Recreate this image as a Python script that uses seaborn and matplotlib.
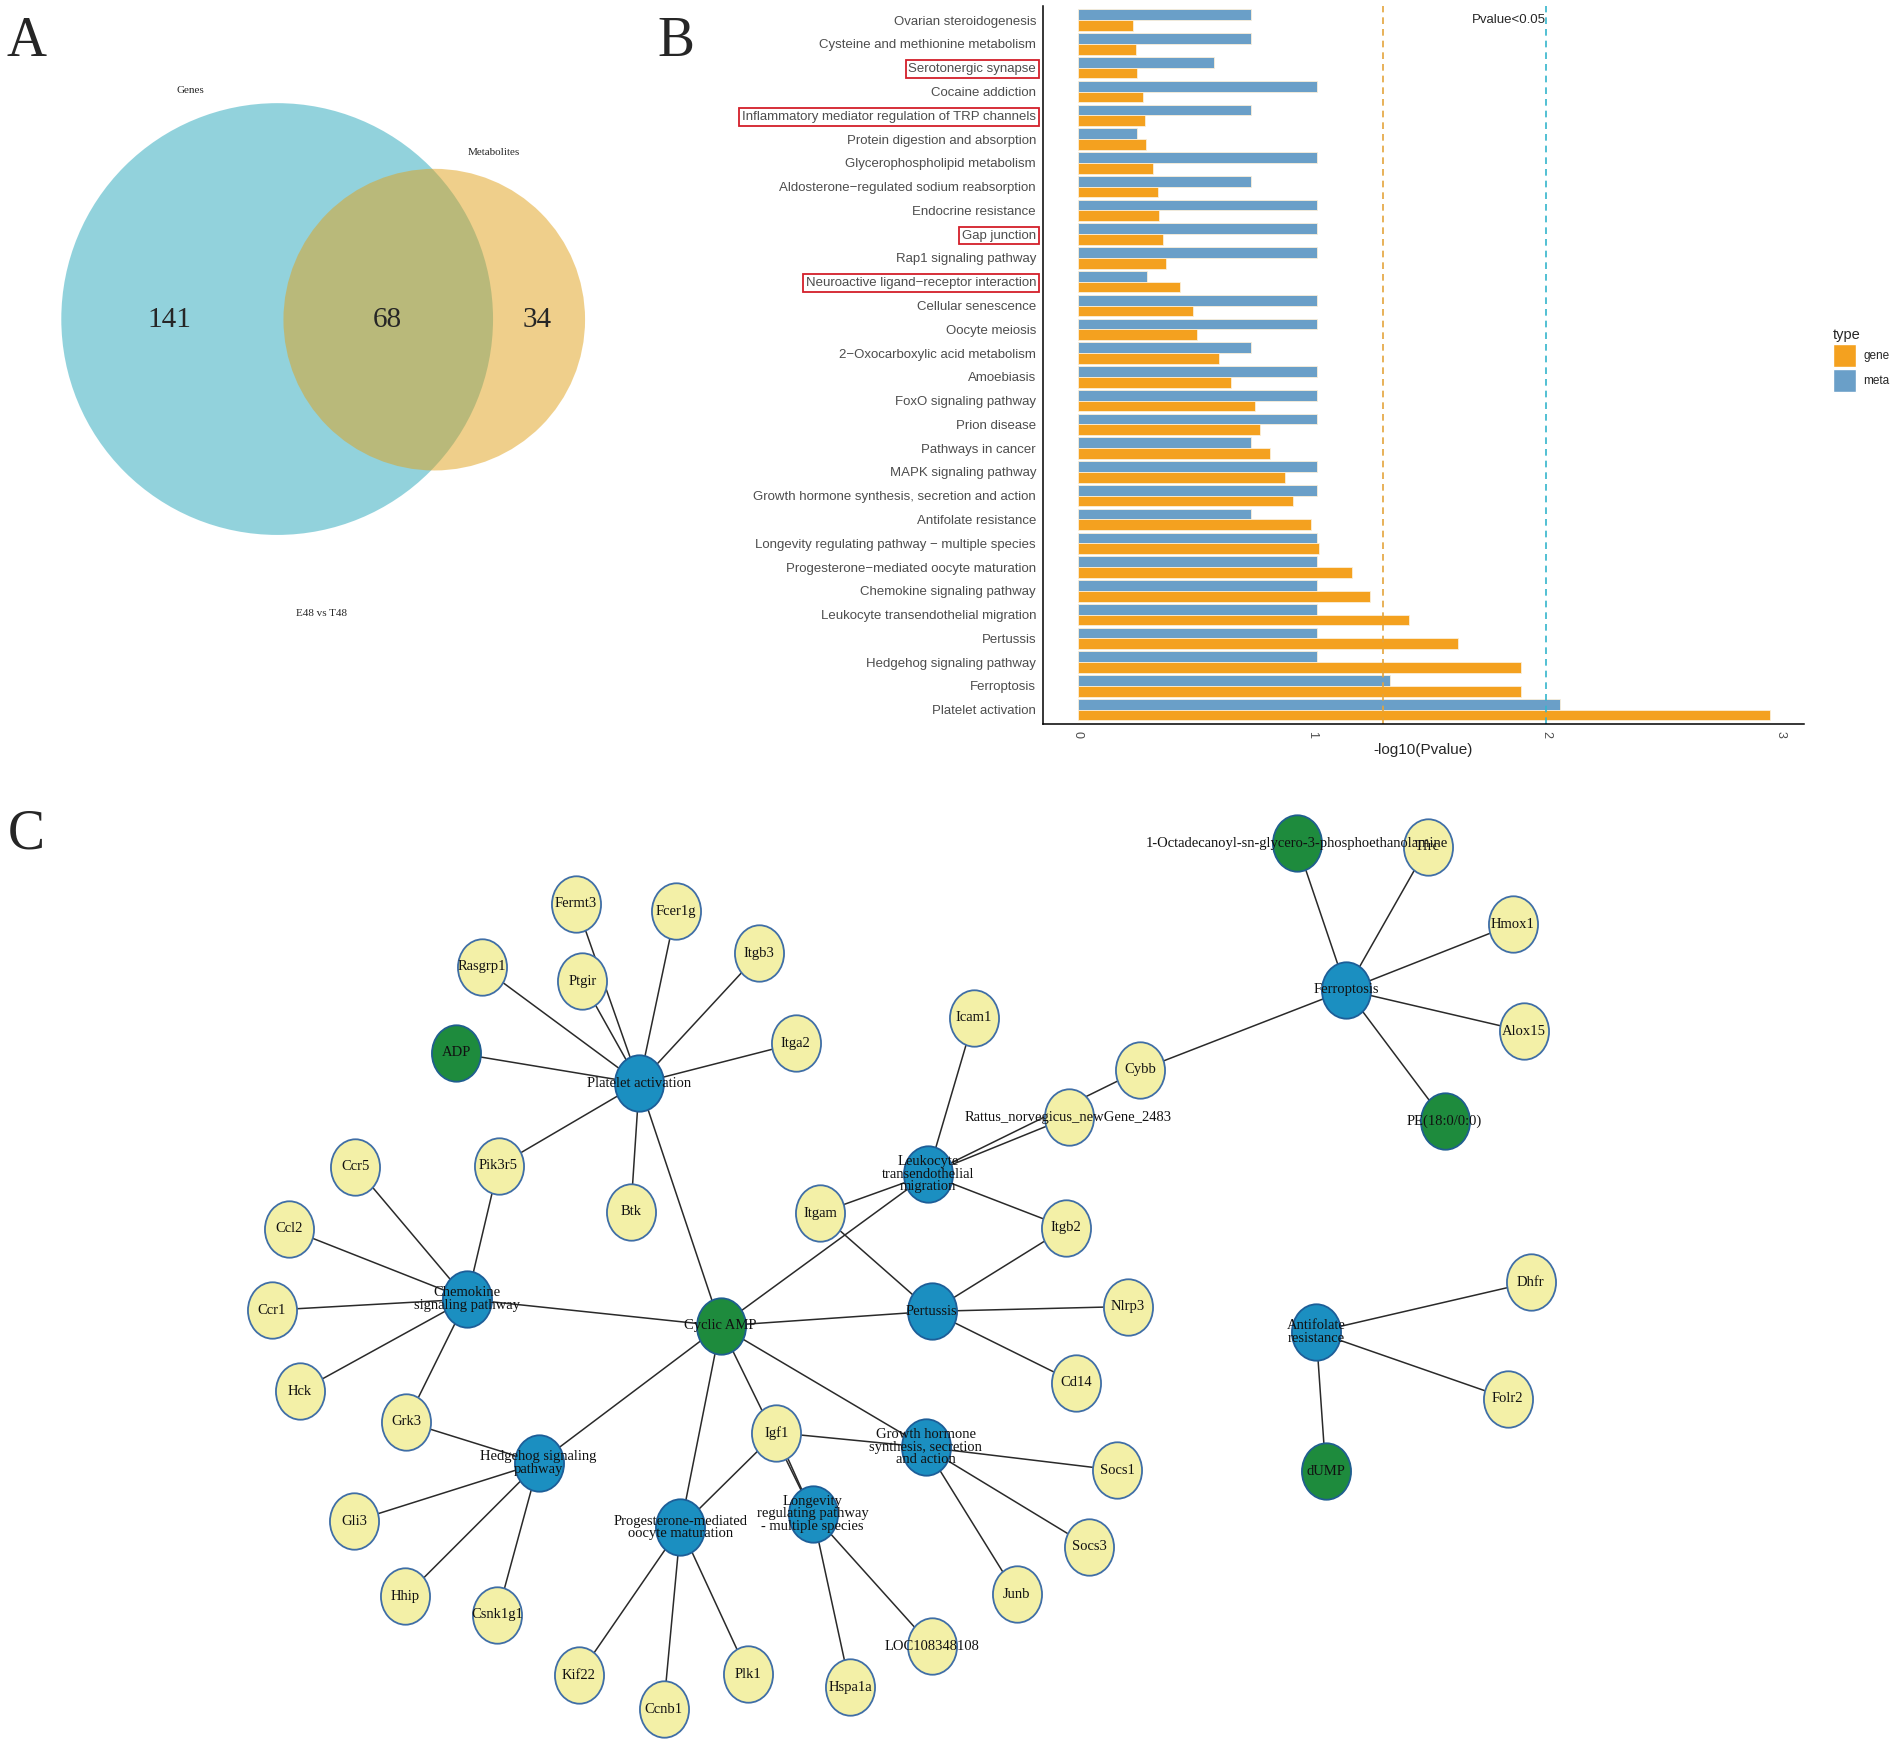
import numpy as np
import pandas as pd
import matplotlib
matplotlib.use("Agg")
import matplotlib.pyplot as plt
import seaborn as sns
from matplotlib.patches import Circle, Patch
from matplotlib.path import Path
from matplotlib.transforms import Affine2D

# ---------------- Panel A: Venn counts ----------------
venn_sets = ["Genes", "Metabolites"]
venn_only_genes = 141
venn_shared = 68
venn_only_meta = 34
venn_caption = "E48 vs T48"

# ---------------- Panel B: KEGG enrichment (-log10 P) ----------------
pathways = [
    "Ovarian steroidogenesis",
    "Cysteine and methionine metabolism",
    "Serotonergic synapse",
    "Cocaine addiction",
    "Inflammatory mediator regulation of TRP channels",
    "Protein digestion and absorption",
    "Glycerophospholipid metabolism",
    "Aldosterone\u2212regulated sodium reabsorption",
    "Endocrine resistance",
    "Gap junction",
    "Rap1 signaling pathway",
    "Neuroactive ligand\u2212receptor interaction",
    "Cellular senescence",
    "Oocyte meiosis",
    "2\u2212Oxocarboxylic acid metabolism",
    "Amoebiasis",
    "FoxO signaling pathway",
    "Prion disease",
    "Pathways in cancer",
    "MAPK signaling pathway",
    "Growth hormone synthesis, secretion and action",
    "Antifolate resistance",
    "Longevity regulating pathway \u2212 multiple species",
    "Progesterone\u2212mediated oocyte maturation",
    "Chemokine signaling pathway",
    "Leukocyte transendothelial migration",
    "Pertussis",
    "Hedgehog signaling pathway",
    "Ferroptosis",
    "Platelet activation",
]
gene_logp = [0.236, 0.249, 0.252, 0.278, 0.285, 0.291, 0.320, 0.343, 0.347, 0.363,
             0.376, 0.435, 0.491, 0.507, 0.602, 0.654, 0.756, 0.779, 0.821, 0.886,
             0.919, 0.994, 1.030, 1.171, 1.246, 1.413, 1.622, 1.891, 1.891, 2.954]
meta_logp = [0.739, 0.739, 0.582, 1.020, 0.739, 0.255, 1.020, 0.739, 1.020, 1.020,
             1.020, 0.294, 1.020, 1.020, 0.739, 1.020, 1.020, 1.020, 0.739, 1.020,
             1.020, 0.739, 1.020, 1.020, 1.020, 1.020, 1.020, 1.020, 1.331, 2.058]
boxed_pathways = [
    "Serotonergic synapse",
    "Inflammatory mediator regulation of TRP channels",
    "Gap junction",
    "Neuroactive ligand\u2212receptor interaction",
]
p_cut_gene = 0.05
p_cut_meta = 0.01

# ---------------- Panel C: pathway network ----------------
pathway_members = {
    "Platelet activation": ["Fermt3", "Fcer1g", "Rasgrp1", "Ptgir", "Itgb3", "Itga2",
                            "ADP", "Pik3r5", "Btk", "Cyclic AMP"],
    "Chemokine signaling pathway": ["Ccr5", "Ccl2", "Ccr1", "Hck", "Grk3", "Pik3r5", "Cyclic AMP"],
    "Hedgehog signaling pathway": ["Grk3", "Gli3", "Hhip", "Csnk1g1", "Cyclic AMP"],
    "Leukocyte transendothelial migration": ["Icam1", "Rattus_norvegicus_newGene_2483", "Cybb",
                                             "Itgam", "Itgb2", "Cyclic AMP"],
    "Pertussis": ["Itgam", "Itgb2", "Nlrp3", "Cd14", "Cyclic AMP"],
    "Ferroptosis": ["Cybb", "1-Octadecanoyl-sn-glycero-3-phosphoethanolamine", "Tfrc",
                    "Hmox1", "Alox15", "PE(18:0/0:0)"],
    "Growth hormone synthesis, secretion and action": ["Igf1", "Socs1", "Socs3", "Junb", "Cyclic AMP"],
    "Progesterone-mediated oocyte maturation": ["Igf1", "Kif22", "Ccnb1", "Plk1", "Cyclic AMP"],
    "Longevity regulating pathway - multiple species": ["Igf1", "Hspa1a", "LOC108348108", "Cyclic AMP"],
    "Antifolate resistance": ["Dhfr", "Folr2", "dUMP"],
}
metabolite_nodes = ["ADP", "Cyclic AMP", "1-Octadecanoyl-sn-glycero-3-phosphoethanolamine",
                    "PE(18:0/0:0)", "dUMP"]

# layout of the network / venn (reference pixel units, 1568 x 1436 canvas)
REF_W, REF_H = 1568, 1436
node_pos = {
    "Platelet activation": (527, 893), "Chemokine signaling pathway": (385, 1071),
    "Hedgehog signaling pathway": (444, 1206), "Leukocyte transendothelial migration": (765, 968),
    "Pertussis": (768, 1081), "Ferroptosis": (1110, 816),
    "Growth hormone synthesis, secretion and action": (763, 1193),
    "Progesterone-mediated oocyte maturation": (561, 1259),
    "Longevity regulating pathway - multiple species": (670, 1248),
    "Antifolate resistance": (1085, 1098),
    "Fermt3": (475, 745), "Fcer1g": (557, 751), "Rasgrp1": (397, 797), "Ptgir": (480, 809),
    "Itgb3": (626, 786), "Itga2": (656, 860), "ADP": (376, 868), "Pik3r5": (411, 961),
    "Btk": (520, 999), "Ccr5": (293, 962), "Ccl2": (238, 1013), "Ccr1": (224, 1080),
    "Hck": (247, 1147), "Grk3": (335, 1172), "Gli3": (292, 1254), "Hhip": (334, 1316),
    "Csnk1g1": (410, 1331), "Cyclic AMP": (594, 1093), "Itgam": (676, 1000),
    "Icam1": (803, 839), "Rattus_norvegicus_newGene_2483": (881, 921), "Cybb": (940, 882),
    "1-Octadecanoyl-sn-glycero-3-phosphoethanolamine": (1069, 695), "Tfrc": (1177, 698),
    "Hmox1": (1247, 762), "Alox15": (1256, 850), "PE(18:0/0:0)": (1191, 924),
    "Itgb2": (879, 1012), "Nlrp3": (930, 1077), "Cd14": (887, 1140), "Igf1": (640, 1181),
    "Socs1": (921, 1212), "Socs3": (898, 1275), "Junb": (838, 1314), "Kif22": (477, 1381),
    "Ccnb1": (547, 1409), "Plk1": (617, 1380), "Hspa1a": (701, 1391),
    "LOC108348108": (768, 1357), "Dhfr": (1262, 1057), "Folr2": (1243, 1153),
    "dUMP": (1093, 1213),
}
node_text = {
    "Chemokine signaling pathway": "Chemokine\nsignaling pathway",
    "Hedgehog signaling pathway": "Hedgehog signaling\npathway",
    "Leukocyte transendothelial migration": "Leukocyte\ntransendothelial\nmigration",
    "Growth hormone synthesis, secretion and action": "Growth hormone\nsynthesis, secretion\nand action",
    "Progesterone-mediated oocyte maturation": "Progesterone-mediated\noocyte maturation",
    "Longevity regulating pathway - multiple species": "Longevity\nregulating pathway\n- multiple species",
    "Antifolate resistance": "Antifolate\nresistance",
}

GENE_C, META_C = "#F4A11F", "#6A9FC8"
SERIF = ["Liberation Serif", "DejaVu Serif"]
SANS = ["Liberation Sans", "DejaVu Sans"]

sns.set_style("white")
plt.rcParams["font.family"] = SANS

fig = plt.figure(figsize=(19.02, 17.42), dpi=100)

# ---- canvas axes for panels A and C
ax = fig.add_axes([0, 0, 1, 1])

# Venn (area proportional)
n_genes = venn_only_genes + venn_shared
n_meta = venn_only_meta + venn_shared
k = 12.31
ax.add_patch(Circle((228.5, 263), k * np.sqrt(n_genes), color="#27A7BB", alpha=0.5, lw=0))
ax.add_patch(Circle((358, 263.5), k * np.sqrt(n_meta), color="#E1A119", alpha=0.5, lw=0))
for x, v in zip([140, 319, 443], [venn_only_genes, venn_shared, venn_only_meta]):
    ax.text(x, 264, str(v), ha="center", va="center", fontsize=21, family=SERIF)
ax.text(157, 75, venn_sets[0], ha="center", va="center", fontsize=8, family=SERIF)
ax.text(407, 126, venn_sets[1], ha="center", va="center", fontsize=8, family=SERIF)
ax.text(265, 506, venn_caption, ha="center", va="center", fontsize=8, family=SERIF)

for lab, (x, y) in zip("ABC", [(22, 35), (557, 35), (22, 688)]):
    ax.text(x, y, lab, ha="center", va="center", fontsize=40, family=SERIF)

# network edges
for pw, members in pathway_members.items():
    xa, ya = node_pos[pw]
    for m in members:
        xb, yb = node_pos[m]
        ax.plot([xa, xb], [ya, yb], color="#2a2a2a", lw=1.1, zorder=1)

rows = []
for name, (x, y) in node_pos.items():
    if name in pathway_members:
        kind = "pathway"
    elif name in metabolite_nodes:
        kind = "metabolite"
    else:
        kind = "gene"
    rows.append({"name": name, "kind": kind, "x": x, "y": y})
nodes = pd.DataFrame(rows)

ell = Path.unit_circle().transformed(Affine2D().scale(0.87, 1.0))
styles = {"gene": ("#F3F0A7", "#3F6EA6"), "pathway": ("#1B8FC1", "#1D5E98"),
          "metabolite": ("#1E8B3D", "#1F5E8F")}
for kind, (fc, ec) in styles.items():
    sub = nodes[nodes["kind"] == kind]
    sns.scatterplot(data=sub, x="x", y="y", marker=ell, s=1650, color=fc,
                    edgecolor=ec, linewidth=1.3, ax=ax, zorder=2, legend=False)
for _, r in nodes.iterrows():
    ax.text(r["x"], r["y"], node_text.get(r["name"], r["name"]), ha="center", va="center",
            fontsize=10.5, family=SERIF, zorder=3, linespacing=0.95, color="#111111")

ax.set_xlim(0, REF_W)
ax.set_ylim(REF_H, 0)
ax.axis("off")

# ---- panel B bar chart
axb = fig.add_axes([0.5484, 0.5844, 0.4001, 0.4122])
df = pd.DataFrame({
    "pathway": pathways * 2,
    "type": ["gene"] * len(pathways) + ["meta"] * len(pathways),
    "logp": gene_logp + meta_logp,
})
sns.barplot(data=df, x="logp", y="pathway", hue="type", order=pathways,
            hue_order=["meta", "gene"], palette={"gene": GENE_C, "meta": META_C},
            saturation=1, orient="h", width=0.9, edgecolor="#FBEFD9", linewidth=0.6,
            legend=False, ax=axb)
axb.axvline(-np.log10(p_cut_gene), color="#E4A43C", ls=(0, (4, 3)), lw=1.2)
axb.axvline(-np.log10(p_cut_meta), color="#35B5CC", ls=(0, (4, 3)), lw=1.2)
axb.text(-np.log10(p_cut_meta), 0, "Pvalue<0.05", ha="right", va="center", fontsize=9.5)
axb.set_xlim(-0.148, 3.10)
axb.set_ylim(29.6, -0.6)
axb.set_xticks([0, 1, 2, 3])
axb.set_xticklabels(["0", "1", "2", "3"], rotation=-90, color="#4D4D4D", fontsize=9)
axb.set_xlabel("-log10(Pvalue)", fontsize=11, labelpad=4)
axb.set_ylabel("")
axb.tick_params(axis="y", length=3, color="#333333", labelsize=9.5, labelcolor="#4D4D4D", pad=2)
axb.tick_params(axis="x", length=3, color="#333333", pad=2)
for s in ["top", "right"]:
    axb.spines[s].set_visible(False)
for s in ["left", "bottom"]:
    axb.spines[s].set_color("black")
    axb.spines[s].set_linewidth(1.1)
for t in axb.get_yticklabels():
    if t.get_text() in boxed_pathways:
        t.set_bbox(dict(facecolor="none", edgecolor="#D31F2A", linewidth=1.3, pad=2))

handles = [Patch(facecolor=GENE_C, edgecolor="white", label="gene"),
           Patch(facecolor=META_C, edgecolor="white", label="meta")]
leg = fig.legend(handles=handles, title="type", loc="upper left", bbox_to_anchor=(0.958, 0.818),
                 frameon=False, fontsize=8.5, title_fontsize=10.5, handlelength=2.0,
                 handleheight=2.6, handletextpad=0.6, labelspacing=0.2)
leg._legend_box.align = "left"

fig.savefig("out.png", dpi=100)
